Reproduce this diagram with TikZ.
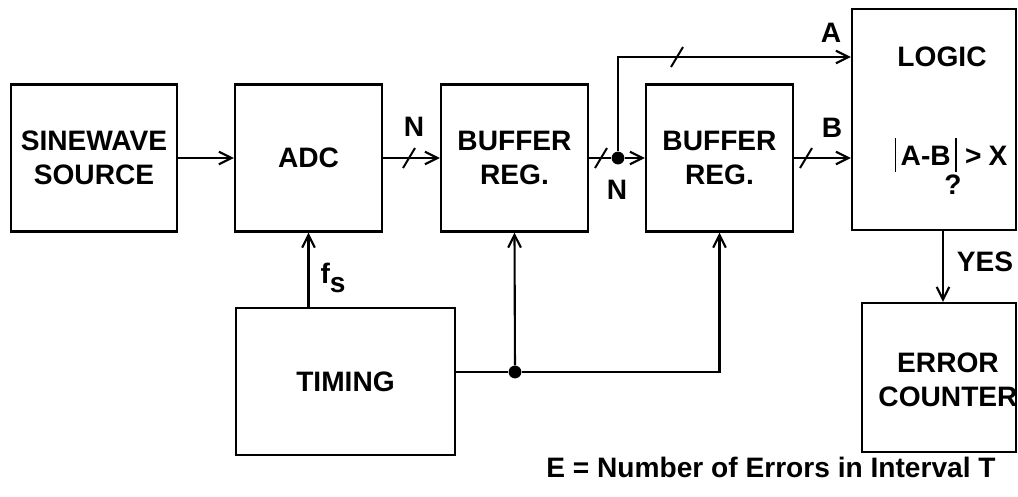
\documentclass[tikz,border=0pt]{standalone}
\usepackage{fontspec}
\setmainfont{Liberation Sans}
\usetikzlibrary{arrows.meta, positioning}
\tikzset{
	block/.style={draw, line width=1.5pt, minimum width=3.675cm, minimum height=3.675cm, align=center, inner sep=0pt}, %every box of the chain
	arr/.style={line width=1.5pt, -{Straight Barb[length=9pt,width=9pt]}}, %open arrow heads
	wire/.style={line width=1.5pt}, %plain connections
	dot/.style={circle, fill, inner sep=0pt, minimum size=0.32cm}, %junctions
	busslash/.pic={\draw[line width=1.4pt] (-6,10) -- (6,-10);}, %marks an N bit bus
}
\newcommand{\absbar}{\rule[-0.22em]{1.3pt}{1.2em}}

\begin{document}
\begin{tikzpicture}[x=0.025cm, y=-0.025cm, font=\fontsize{20}{24}\selectfont\bfseries]
	\useasboundingbox (0,0) rectangle (1018,496);
	% boxes
	\node[block, minimum width=4.15cm] (src) at (94,158) {SINEWAVE\\SOURCE};
	\node[block] (adc) at (308.5,158) {ADC};
	\node[block] (buf1) at (514.5,158) {BUFFER\\REG.};
	\node[block] (buf2) at (719.5,158) {BUFFER\\REG.};
	\node[block, minimum width=4.1cm, minimum height=5.525cm] (logic) at (934,119.5) {};
	\node[block, minimum width=3.85cm, minimum height=3.725cm] (err) at (939,377.5) {};
	\node[block, minimum width=5.475cm] (timing) at (345.5,381.5) {TIMING};
	% texts in the boxes on the right
	\node (logtxt) at (942,57) {LOGIC};
	\node (cmptxt) at (951,155) {\absbar\hspace{3pt}A-B\hspace{3pt}\absbar\hspace{6pt}>\hspace{5pt}X};
	\node (qtxt) at (953,185) {?};
	\node[align=center] (errtxt) at (948,380) {ERROR\\COUNTER};
	% junctions
	\node[dot] (j1) at (618,158) {};
	\node[dot] (j2) at (515,372) {};
	\coordinate (atop) at (618,57);
	\coordinate (yes) at (943,0);
	% connections
	\draw[arr] (src) -- (adc);
	\draw[arr] (adc) -- (buf1);
	\draw[wire] (buf1) -- (j1);
	\draw[arr] (j1) -- (buf2);
	\draw[arr] (j1) -- (atop) -- (atop -| logic.west);
	\draw[arr] (buf2) -- (buf2 -| logic.west);
	\draw[arr] (adc.south |- timing.north) -- (adc.south);
	\draw[wire] (timing.east |- j2) -- (j2);
	\draw[arr] (j2) -- (buf1.south);
	\draw[arr] (j2) -| (buf2.south);
	\draw[arr] (logic.south -| yes) -- (err.north -| yes);
	% bus marks
	\pic at (409,158) {busslash};
	\pic at (601,158) {busslash};
	\pic at (677,57) {busslash};
	\pic at (806,158) {busslash};
	% labels
	\node (nin) at (414,127) {N};
	\node (nout) at (617,190) {N};
	\node (alab) at (831,33) {A};
	\node (blab) at (832,128) {B};
	\node (fslab) at (333,278) {f\raisebox{-0.35em}{s}};
	\node (yeslab) at (985,262) {YES};
	\node (note) at (771,467) {E = Number of Errors in Interval T};
\end{tikzpicture}
\end{document}
